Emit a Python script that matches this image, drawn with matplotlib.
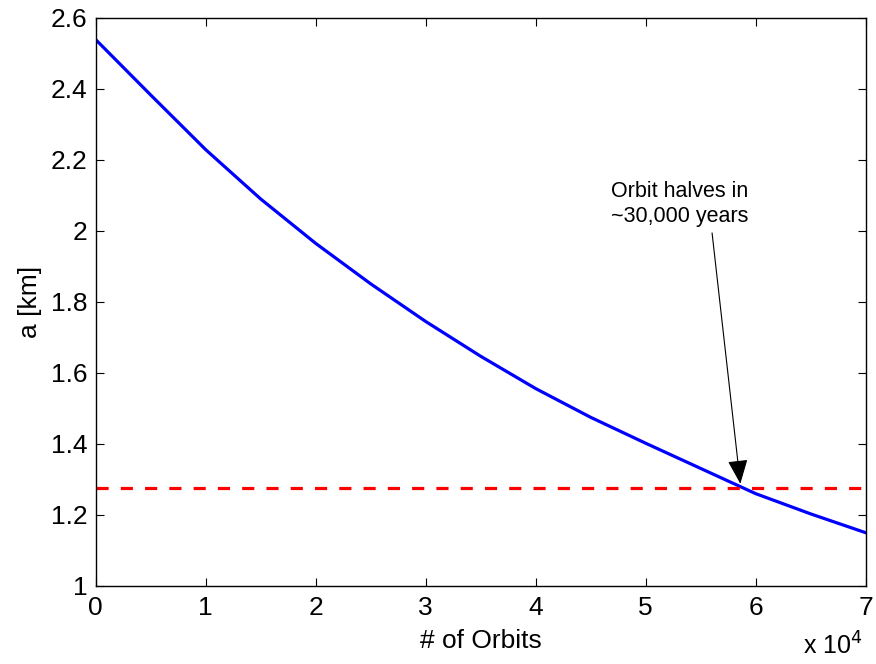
import matplotlib
matplotlib.use("Agg")
import matplotlib.pyplot as plt
from matplotlib.ticker import FuncFormatter, MultipleLocator

plt.rcParams['font.family'] = ['Liberation Sans', 'DejaVu Sans']

# Data
orbits = [0, 5000, 10000, 15000, 20000, 25000, 30000, 35000, 40000,
          45000, 50000, 55000, 60000, 65000, 70000]
a_km = [2.539, 2.383, 2.229, 2.090, 1.965, 1.851, 1.745, 1.647, 1.556,
        1.475, 1.402, 1.331, 1.260, 1.203, 1.150]
half_a = 1.276
annot_text = "Orbit halves in\n~30,000 years"
annot_xy = (58600, 1.288)
annot_text_xy = (53100, 2.01)

fig = plt.figure(figsize=(8.76, 6.64), dpi=100)
ax = fig.add_axes([0.1093, 0.1175, 0.8790, 0.8554])

ax.plot(orbits, a_km, color='#0000ff', lw=2.3)
ax.axhline(half_a, color='#ff0000', lw=2.3, ls=(0, (3.8, 3.8)))

ax.annotate(annot_text, xy=annot_xy, xytext=annot_text_xy,
            ha='center', va='bottom', fontsize=15.5, linespacing=1.3,
            arrowprops=dict(arrowstyle='-|>,head_length=0.6,head_width=0.25',
                            color='black', lw=0.8, relpos=(0.73, 0.0),
                            mutation_scale=25, shrinkA=2, shrinkB=0))

ax.set_xlim(0, 70000)
ax.set_ylim(1.0, 2.6)
ax.xaxis.set_major_locator(MultipleLocator(10000))
ax.yaxis.set_major_locator(MultipleLocator(0.2))
ax.xaxis.set_major_formatter(FuncFormatter(lambda v, p: f"{v/1e4:g}"))
ax.yaxis.set_major_formatter(FuncFormatter(lambda v, p: f"{v:g}"))
ax.tick_params(direction='in', length=6, width=0.8, top=True, right=True,
               labelsize=19)
ax.tick_params(axis='x', pad=7)
ax.tick_params(axis='y', pad=6)
for s in ax.spines.values():
    s.set_linewidth(1.0)

ax.set_xlabel("# of Orbits", fontsize=19, labelpad=7)
ax.set_ylabel("a [km]", fontsize=19, labelpad=6)
fig.text(0.9167, 0.006, r"x 10$^4$", fontsize=18, ha='left', va='bottom')

fig.savefig("out.png", dpi=100)
